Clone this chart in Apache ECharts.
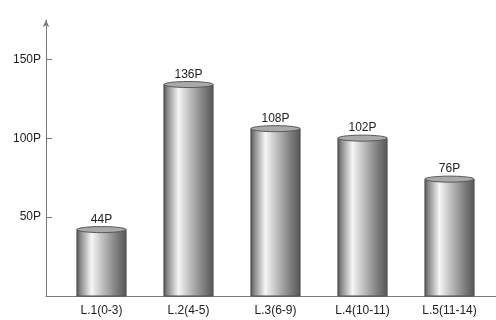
<!DOCTYPE html>
<html>
<head>
<meta charset="utf-8">
<script src="https://cdn.jsdelivr.net/npm/echarts@6/dist/echarts.min.js"></script>
<style>
html,body{margin:0;padding:0;background:#fff;}
#chart{width:496px;height:320px;}
</style>
</head>
<body>
<div id="chart"></div>
<script>
const categories = ['L.1(0-3)', 'L.2(4-5)', 'L.3(6-9)', 'L.4(10-11)', 'L.5(11-14)'];
const values = [44, 136, 108, 102, 76];
const valueLabels = ['44P', '136P', '108P', '102P', '76P'];
const yTicks = [50, 100, 150];
const yMax = 175;

const FONT = 'Liberation Sans, Arial, sans-serif';
const axisColor = '#7a7a7a';

const chart = echarts.init(document.getElementById('chart'));

const bodyGradient = new echarts.graphic.LinearGradient(0, 0, 1, 0, [
  {offset: 0, color: '#505050'},
  {offset: 0.08, color: '#8a8a8a'},
  {offset: 0.3, color: '#f6f6f6'},
  {offset: 0.5, color: '#c4c4c4'},
  {offset: 0.8, color: '#7e7e7e'},
  {offset: 1, color: '#555555'}
]);

function renderCylinder(params, api) {
  const i = api.value(0);
  const v = api.value(1);
  const top = api.coord([i, v]);
  const base = api.coord([i, 0]);
  const bw = api.size([1, 0])[0];
  const w = bw * 0.565;
  const ry = 3;
  const x0 = top[0] - w / 2;
  return {
    type: 'group',
    children: [
      {
        type: 'rect',
        shape: {x: x0, y: top[1] + ry, width: w, height: base[1] - top[1] - ry},
        style: {fill: bodyGradient, stroke: '#505050', lineWidth: 1}
      },
      {
        type: 'ellipse',
        shape: {cx: top[0], cy: top[1] + ry, rx: w / 2, ry: ry},
        style: {fill: '#a9a9a9', stroke: '#555555', lineWidth: 1}
      },
      {
        type: 'text',
        style: {
          text: valueLabels[params.dataIndex],
          x: top[0], y: top[1] - 1,
          align: 'center', verticalAlign: 'bottom',
          font: '12px ' + FONT, fill: '#222'
        }
      }
    ]
  };
}

chart.setOption({
  animation: false,
  backgroundColor: '#fff',
  grid: [
    {left: 58, right: 3, top: 20, bottom: 24},
    {left: 46, right: 0, top: 20, bottom: 24}
  ],
  xAxis: [
    {
      gridIndex: 0, type: 'category', data: categories, boundaryGap: true,
      axisLine: {show: false}, axisTick: {show: false},
      axisLabel: {margin: 9, color: '#222', fontSize: 12, fontFamily: FONT},
      splitLine: {show: false}
    },
    {
      gridIndex: 1, type: 'value', min: 0, max: 1,
      axisLine: {show: true, onZero: false, lineStyle: {color: axisColor, width: 1}},
      axisTick: {show: false}, axisLabel: {show: false}, splitLine: {show: false}
    }
  ],
  yAxis: [
    {
      gridIndex: 0, type: 'value', min: 0, max: yMax, show: false
    },
    {
      gridIndex: 1, type: 'value', min: 0, max: yMax,
      axisLine: {show: true, symbol: ['none', 'arrow'], symbolSize: [5, 7], lineStyle: {color: axisColor, width: 1}},
      axisTick: {show: true, inside: true, length: 6, customValues: yTicks, lineStyle: {color: axisColor}},
      axisLabel: {show: true, customValues: yTicks, formatter: '{value}P', margin: 5, color: '#222', fontSize: 12, fontFamily: FONT},
      splitLine: {show: false}
    }
  ],
  series: [
    {
      type: 'custom',
      xAxisIndex: 0, yAxisIndex: 0,
      renderItem: renderCylinder,
      encode: {x: 0, y: 1},
      data: values.map((v, i) => [i, v])
    }
  ]
});
</script>
</body>
</html>
